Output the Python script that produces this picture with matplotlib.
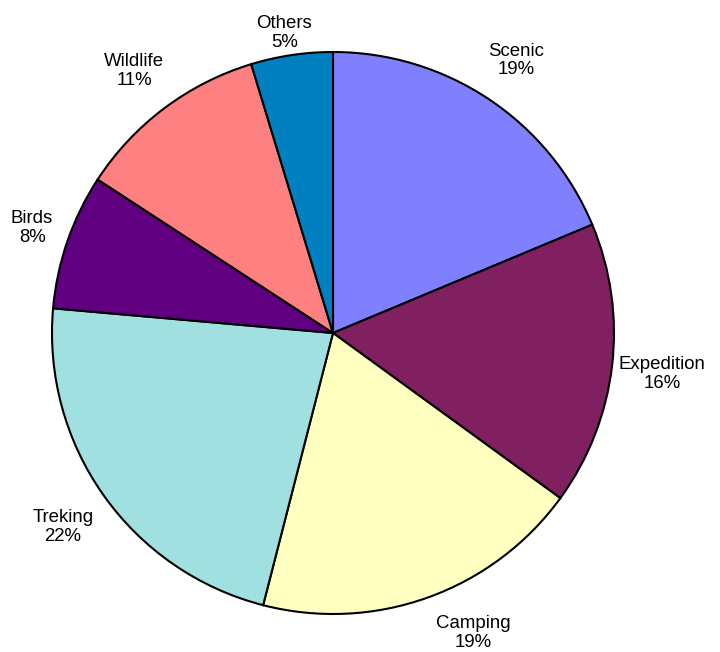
import numpy as np
import matplotlib
matplotlib.use("Agg")
import matplotlib.pyplot as plt

categorias = ["Scenic", "Expedition", "Camping", "Treking", "Birds", "Wildlife", "Others"]
valores = [18.7, 16.3, 19.0, 22.4, 7.8, 11.1, 4.7]
colores = ["#8080FF", "#802060", "#FFFFC0", "#A0E0E0", "#600080", "#FF8080", "#0080C0"]

plt.rcParams['font.family'] = ['Liberation Sans', 'DejaVu Sans']

W, H = 720, 652
R = 281  # radio en pixeles
cx, cy = 333, H - 333

fig = plt.figure(figsize=(W / 100, H / 100), dpi=100, facecolor="white")
ax = fig.add_axes([(cx - R) / W, (cy - R) / H, 2 * R / W, 2 * R / H])

wedges, _ = ax.pie(valores, colors=colores, startangle=90, counterclock=False,
                   radius=1.0, wedgeprops=dict(edgecolor="black", linewidth=1.5))
ax.set_xlim(-1, 1)
ax.set_ylim(-1, 1)
ax.axis("off")

# etiquetas fuera del pastel, estilo Excel (pegadas al borde si no caben)
total = sum(valores)
textos = []
for w, cat, v in zip(wedges, categorias, valores):
    ang = np.deg2rad((w.theta1 + w.theta2) / 2)
    pct = int(round(v * 100 / total))
    t = ax.text(0, 0, f"{cat}\n{pct}%", ha="center", va="center",
                fontsize=13.4, linespacing=1.15, clip_on=False)
    textos.append((t, ang))

fig.canvas.draw()
rend = fig.canvas.get_renderer()
rlab = 1.178 * R
for t, ang in textos:
    bb = t.get_window_extent(rend)
    px = cx + rlab * np.cos(ang)
    py = cy + rlab * np.sin(ang) - 3
    # limites del area del grafico (pixeles, origen abajo)
    px = min(max(px, 11 + bb.width / 2), W - 9 - bb.width / 2)
    py = min(py, H - 15 - bb.height / 2)
    ymin = 1 + bb.height / 2
    if py < ymin:
        # abajo: se desliza sobre el circulo
        py = ymin
        dx = np.sqrt(max(rlab ** 2 - (cy - py) ** 2, 0))
        px = cx + np.sign(np.cos(ang)) * dx
    t.set_position(((px - cx) / R, (py - cy) / R))

fig.savefig("out.png", dpi=100, facecolor="white")
